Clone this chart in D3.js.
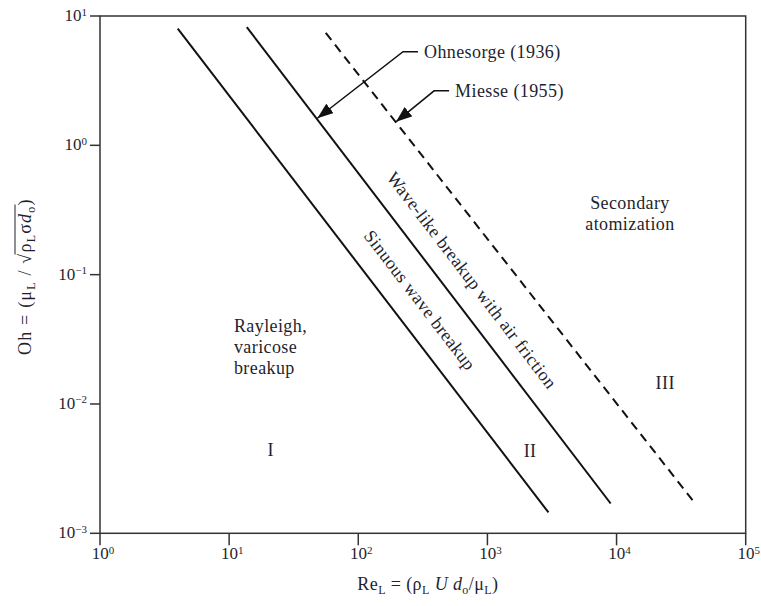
<!DOCTYPE html>
<html>
<head>
<meta charset="utf-8">
<script src="https://cdn.jsdelivr.net/npm/d3@7"></script>
<style>
  body { margin: 0; background: #fff; }
  text { font-family: "Liberation Serif", "DejaVu Serif", serif; fill: #1f1f2e; }
  .lbl { font-size: 18px; letter-spacing: 0.4px; }
</style>
</head>
<body>
<div id="chart"></div>
<script>
// Boundary lines (Re_L, Oh)
var sinuousRe = [4.0, 2970];
var sinuousOh = [8.0, 0.00145];
var waveRe = [13.7, 9000];
var waveOh = [8.2, 0.0017];
var miesseRe = [56, 40600];
var miesseOh = [7.4, 0.0017];

// tick exponents
var xExponents = [0, 1, 2, 3, 4, 5];
var yExponents = [1, 0, -1, -2, -3];

// region labels: text lines, Re, Oh, alignment
var regionText = [["Rayleigh,", "varicose", "breakup"], ["I"], ["II"], ["III"], ["Secondary", "atomization"]];
var regionRe = [10.9, 21, 2140, 23800, 12700];
var regionOh = [0.036, 0.00395, 0.0039, 0.013, 0.321];
var regionAnchor = ["start", "middle", "middle", "middle", "middle"];

// annotations with arrows: label position and arrow tip
var noteText = ["Ohnesorge (1936)", "Miesse (1955)"];
var noteRe = [323, 562];
var noteOh = [5.3, 2.64];
var tipRe = [48.2, 196];
var tipOh = [1.62, 1.52];

var W = 761, H = 606;
var margin = { left: 100, top: 16, right: 15.3, bottom: 72.7 };

var svg = d3.select("#chart").append("svg")
    .attr("width", W)
    .attr("height", H);

var x = d3.scaleLog().domain([1, 1e5]).range([margin.left, W - margin.right]);
var y = d3.scaleLog().domain([1e-3, 10]).range([H - margin.bottom, margin.top]);

var x0 = x.range()[0], x1 = x.range()[1];
var y0 = y.range()[0], y1 = y.range()[1];

// frame
svg.append("rect")
    .attr("x", x0).attr("y", y1)
    .attr("width", x1 - x0).attr("height", y0 - y1)
    .attr("fill", "none")
    .attr("stroke", "#333")
    .attr("stroke-width", 1.5);

function supLabel(sel, e) {
    sel.append("tspan").text("10");
    sel.append("tspan")
        .attr("font-size", "11px")
        .attr("dy", "-0.5em")
        .text(e < 0 ? "\u2212" + (-e) : e);
}

// x axis
var xAxis = svg.append("g");
xAxis.selectAll("line").data(xExponents).enter().append("line")
    .attr("x1", d => x(Math.pow(10, d))).attr("x2", d => x(Math.pow(10, d)))
    .attr("y1", y0).attr("y2", y0 + 12)
    .attr("stroke", "#333").attr("stroke-width", 1.5);
xAxis.selectAll("text").data(xExponents).enter().append("text")
    .attr("x", d => x(Math.pow(10, d)) + 3)
    .attr("y", y0 + 26)
    .attr("text-anchor", "middle")
    .style("font-size", "17px")
    .each(function(d) { supLabel(d3.select(this), d); });

// y axis
var yAxis = svg.append("g");
yAxis.selectAll("line").data(yExponents).enter().append("line")
    .attr("x1", x0 - 10).attr("x2", x0)
    .attr("y1", d => y(Math.pow(10, d))).attr("y2", d => y(Math.pow(10, d)))
    .attr("stroke", "#333").attr("stroke-width", 1.5);
yAxis.selectAll("text").data(yExponents).enter().append("text")
    .attr("y", d => y(Math.pow(10, d)) + 5)
    .style("font-size", "17px")
    .each(function(d) { supLabel(d3.select(this), d); });
// exponents hang to the right of "10"
yAxis.selectAll("text").each(function() {
    var w = this.getComputedTextLength();
    d3.select(this).attr("x", x0 - 13 - w);
});

// axis titles
var sub = "12px";
var xt = svg.append("text")
    .attr("class", "lbl")
    .attr("x", (x0 + x1) / 2 + 5)
    .attr("y", H - 16)
    .attr("text-anchor", "middle");
xt.append("tspan").text("Re");
xt.append("tspan").attr("font-size", sub).attr("dy", 4).text("L");
xt.append("tspan").attr("dy", -4).text(" = (\u03c1");
xt.append("tspan").attr("font-size", sub).attr("dy", 4).text("L");
xt.append("tspan").attr("dy", -4).attr("font-style", "italic").text(" U d");
xt.append("tspan").attr("font-size", sub).attr("dy", 4).text("o");
xt.append("tspan").attr("dy", -4).text("/\u03bc");
xt.append("tspan").attr("font-size", sub).attr("dy", 4).text("L");
xt.append("tspan").attr("dy", -4).text(")");

var yg = svg.append("g").attr("transform", "translate(31," + ((y0 + y1) / 2 + 2) + ") rotate(-90)");
var yt = yg.append("text")
    .attr("class", "lbl")
    .style("letter-spacing", "1.2px")
    .attr("x", 0).attr("y", 0)
    .attr("text-anchor", "middle");
yt.append("tspan").text("Oh = (\u03bc");
yt.append("tspan").attr("font-size", sub).attr("dy", 4).text("L");
yt.append("tspan").attr("dy", -4).text(" / \u221a");
var rootStart = yt.text().length;
yt.append("tspan").text("\u03c1");
yt.append("tspan").attr("font-size", sub).attr("dy", 4).text("L");
yt.append("tspan").attr("dy", -4).text("\u03c3");
yt.append("tspan").attr("font-style", "italic").text("d");
yt.append("tspan").attr("font-size", sub).attr("dy", 4).text("o");
var rootEnd = yt.text().length;
yt.append("tspan").attr("dy", -4).text(")");
// overline of the square root
var ytn = yt.node();
var ox1 = ytn.getStartPositionOfChar(rootStart).x;
var ox2 = ytn.getEndPositionOfChar(rootEnd - 1).x;
yg.append("line")
    .attr("x1", ox1 - 2).attr("x2", ox2 + 1)
    .attr("y1", -16).attr("y2", -16)
    .attr("stroke", "#1f1f2e").attr("stroke-width", 1);

// boundary lines
var bounds = [
    { re: sinuousRe, oh: sinuousOh, dash: null },
    { re: waveRe, oh: waveOh, dash: null },
    { re: miesseRe, oh: miesseOh, dash: "9,6" }
];
var line = d3.line().x(d => x(d[0])).y(d => y(d[1]));
svg.selectAll(".bound").data(bounds).enter().append("path")
    .attr("class", "bound")
    .attr("d", d => line(d3.zip(d.re, d.oh)))
    .attr("fill", "none")
    .attr("stroke", "#111")
    .attr("stroke-width", 2)
    .attr("stroke-dasharray", d => d.dash);

function angleOf(b) {
    var dx = x(b.re[1]) - x(b.re[0]), dy = y(b.oh[1]) - y(b.oh[0]);
    return Math.atan2(dy, dx) * 180 / Math.PI;
}

// labels along the lines
var alongText = ["Wave-like breakup with air friction", "Sinuous wave breakup"];
var alongRe = [761, 301];
var alongOh = [0.0908, 0.0637];
var alongLine = [bounds[1], bounds[0]];
alongText.forEach(function(t, i) {
    svg.append("text")
        .attr("class", "lbl")
        .attr("transform", "translate(" + x(alongRe[i]) + "," + y(alongOh[i]) + ") rotate(" + angleOf(alongLine[i]) + ")")
        .attr("text-anchor", "middle")
        .attr("dy", "0.35em")
        .text(t);
});

// region labels
regionText.forEach(function(lines, i) {
    var t = svg.append("text")
        .attr("class", "lbl")
        .attr("x", x(regionRe[i]))
        .attr("y", y(regionOh[i]))
        .attr("text-anchor", regionAnchor[i]);
    lines.forEach(function(l, j) {
        t.append("tspan")
            .attr("x", x(regionRe[i]))
            .attr("dy", j === 0 ? 0 : 21)
            .text(l);
    });
});

// arrow annotations
svg.append("defs").append("marker")
    .attr("id", "head")
    .attr("viewBox", "0 0 16 12")
    .attr("refX", 16).attr("refY", 6)
    .attr("markerWidth", 16).attr("markerHeight", 12)
    .attr("markerUnits", "userSpaceOnUse")
    .attr("orient", "auto")
    .append("path")
    .attr("d", "M0,0L16,6L0,12Z")
    .attr("fill", "#111");

noteText.forEach(function(t, i) {
    var lx = x(noteRe[i]), ly = y(noteOh[i]);
    svg.append("text")
        .attr("class", "lbl")
        .attr("x", lx).attr("y", ly)
        .attr("dy", "0.35em")
        .text(t);
    svg.append("path")
        .attr("d", d3.line()([[lx - 6, ly], [lx - 21, ly], [x(tipRe[i]), y(tipOh[i])]]))
        .attr("fill", "none")
        .attr("stroke", "#111")
        .attr("stroke-width", 1.5)
        .attr("marker-end", "url(#head)");
});
</script>
</body>
</html>
